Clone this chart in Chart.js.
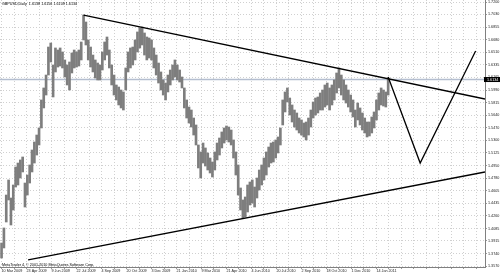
<!DOCTYPE html>
<html><head><meta charset="utf-8">
<script src="https://cdn.jsdelivr.net/npm/chart.js@4/dist/chart.umd.min.js"></script>
<style>html,body{margin:0;padding:0;background:#fff;overflow:hidden}canvas{display:block}</style>
</head><body>
<canvas id="c" width="500" height="274"></canvas>
<script>
const symbolTitle = 'GBPUSD,Daily';
const headerQuote = [1.6138, 1.6156, 1.6109, 1.6134];
const copyrightText = 'MetaTrader 4, \u00A9 2001-2010 MetaQuotes Software Corp.';
const currentPrice = 1.6134;

// date labels every 32 trading days starting at trading-day 0
const dateLabels = ['10 Mar 2009','23 Apr 2009','9 Jun 2009','22 Jul 2009','4 Sep 2009','20 Oct 2009','3 Dec 2009','21 Jan 2010','9 Mar 2010','21 Apr 2010','4 Jun 2010','20 Jul 2010','2 Sep 2010','18 Oct 2010','1 Dec 2010','14 Jan 2011'];
const yTickLabels = ['1.7200','1.7030','1.6855','1.6680','1.6510','1.6335','1.6165','1.5990','1.5815','1.5640','1.5470','1.5300','1.5125','1.4950','1.4780','1.4605','1.4435','1.4260','1.4085','1.3915','1.3740','1.3570'];

// one drawn bar per 3 trading days
const barStep = 3;
const barHigh = [1.3886,1.4093,1.4546,1.4753,1.4505,1.4684,1.4931,1.4986,1.5028,1.5069,
1.4711,1.4821,1.4959,1.5165,1.5275,1.5371,1.5468,1.5853,1.6018,1.6196,
1.6581,1.6636,1.6334,1.6568,1.6540,1.6568,1.6513,1.6403,1.6334,1.6375,
1.6499,1.6540,1.6513,1.6540,1.6650,1.7021,1.6925,1.6678,1.6581,1.6471,
1.6403,1.6361,1.6334,1.6513,1.6650,1.6719,1.6540,1.6334,1.6196,1.6059,
1.6031,1.5990,1.5963,1.6293,1.6513,1.6568,1.6581,1.6678,1.6788,1.6843,
1.6856,1.6774,1.6719,1.6705,1.6678,1.6568,1.6471,1.6361,1.6238,1.6128,
1.6086,1.6196,1.6265,1.6334,1.6403,1.6334,1.6265,1.6169,1.6018,1.5853,
1.5756,1.5715,1.5605,1.5509,1.5234,1.5138,1.5261,1.5193,1.5124,1.5055,
1.5000,1.5138,1.5261,1.5330,1.5413,1.5468,1.5495,1.5481,1.5440,1.5303,
1.5138,1.4959,1.4643,1.4478,1.4519,1.4684,1.4725,1.4753,1.4656,1.4780,
1.4890,1.4959,1.5055,1.5138,1.5206,1.5261,1.5275,1.5303,1.5344,1.5468,
1.5853,1.5963,1.6018,1.5880,1.5784,1.5715,1.5674,1.5605,1.5578,1.5536,
1.5550,1.5605,1.5715,1.5825,1.5880,1.5894,1.5949,1.5990,1.6059,1.6086,
1.6018,1.6059,1.6128,1.6224,1.6293,1.6196,1.6128,1.6059,1.5990,1.5921,
1.5853,1.5715,1.5811,1.5743,1.5674,1.5605,1.5550,1.5550,1.5619,1.5688,
1.5853,1.5949,1.6018,1.5990,1.5963,1.6155];
const barLow = [1.3680,1.3818,1.4175,1.4478,1.4134,1.4340,1.4656,1.4684,1.4780,1.4863,
1.4381,1.4546,1.4711,1.4863,1.4986,1.5096,1.5234,1.5468,1.5743,1.5921,
1.6196,1.6375,1.5894,1.6238,1.6306,1.6320,1.6293,1.6169,1.6059,1.5990,
1.6224,1.6293,1.6306,1.6320,1.6403,1.6678,1.6609,1.6403,1.6306,1.6238,
1.6155,1.6128,1.6128,1.6265,1.6403,1.6471,1.6293,1.6059,1.5921,1.5853,
1.5784,1.5743,1.5715,1.5990,1.6238,1.6293,1.6334,1.6403,1.6513,1.6568,
1.6609,1.6471,1.6403,1.6430,1.6403,1.6293,1.6196,1.6086,1.5990,1.5921,
1.5853,1.5963,1.6059,1.6128,1.6169,1.6128,1.6100,1.6018,1.5743,1.5605,
1.5536,1.5481,1.5371,1.5234,1.4918,1.4780,1.4986,1.4945,1.4890,1.4849,
1.4794,1.4890,1.5028,1.5096,1.5193,1.5261,1.5303,1.5275,1.5234,1.5055,
1.4821,1.4546,1.4340,1.4230,1.4244,1.4313,1.4409,1.4436,1.4381,1.4505,
1.4615,1.4684,1.4753,1.4821,1.4931,1.4986,1.5000,1.5055,1.5124,1.5234,
1.5509,1.5688,1.5825,1.5646,1.5550,1.5481,1.5440,1.5399,1.5371,1.5344,
1.5303,1.5371,1.5481,1.5605,1.5646,1.5674,1.5715,1.5715,1.5756,1.5784,
1.5715,1.5784,1.5853,1.5949,1.6018,1.5921,1.5853,1.5811,1.5756,1.5688,
1.5619,1.5481,1.5578,1.5509,1.5440,1.5399,1.5344,1.5358,1.5399,1.5468,
1.5578,1.5715,1.5784,1.5770,1.5756,1.5921];

// trend lines: x = trading-day index, y = price
const resistanceLine = [{x:105, y:1.7021}, {x:619, y:1.5866}];
const supportLine = [{x:34, y:1.3653}, {x:619, y:1.4863}];
const projectionPath = [{x:495, y:1.6169}, {x:536, y:1.4986}, {x:607, y:1.6526}];
const priceLinePts = [{x:-2, y:currentPrice}, {x:619, y:currentPrice}];

const X_MIN = -2, X_MAX = 619, Y_MIN = 1.35563, Y_MAX = 1.72275;

const barData = barHigh.map((h, k) => ({x: k * barStep, y: [barLow[k], h]}));

const overlay = {
  id: 'overlay',
  afterDraw(chart) {
    const {ctx, chartArea, scales} = chart;
    ctx.save();
    ctx.font = '3.7px "Liberation Sans"';
    ctx.fillStyle = '#000';
    ctx.textBaseline = 'top';
    ctx.textAlign = 'left';
    ctx.fillText(symbolTitle + '  ' + headerQuote.map(v => v.toFixed(4)).join(' '), 2, 2.5);
    ctx.textBaseline = 'bottom';
    ctx.fillText(copyrightText, 2, chartArea.bottom - 0.5);
    const py = scales.y.getPixelForValue(currentPrice);
    ctx.fillStyle = '#000';
    ctx.fillRect(chartArea.right - 1, py - 2.5, 16, 5);
    ctx.fillStyle = '#fff';
    ctx.textBaseline = 'middle';
    ctx.fillText(currentPrice.toFixed(4), chartArea.right + 2, py + 0.3);
    ctx.restore();
  }
};

const gridCommon = {color: '#d0d0d0', lineWidth: 1, drawTicks: true, tickLength: 2, tickColor: '#999', offset: false};
const borderCommon = {display: true, color: '#808080', width: 1, dash: [1, 2]};

new Chart(document.getElementById('c'), {
  type: 'bar',
  data: {
    datasets: [
      {type: 'line', data: resistanceLine, borderColor: '#000', borderWidth: 1.3, pointRadius: 0, order: 0},
      {type: 'line', data: supportLine, borderColor: '#000', borderWidth: 1.3, pointRadius: 0, order: 0},
      {type: 'line', data: projectionPath, borderColor: '#000', borderWidth: 1.3, pointRadius: 0, order: 0},
      {type: 'bar', data: barData, backgroundColor: '#7e7e7e', borderWidth: 0, barThickness: 2, grouped: false, order: 1},
      {type: 'line', data: priceLinePts, borderColor: '#b4bed0', borderWidth: 1.6, pointRadius: 0, order: 2}
    ]
  },
  options: {
    responsive: false,
    animation: false,
    devicePixelRatio: 1,
    layout: {padding: 0},
    plugins: {legend: {display: false}, tooltip: {enabled: false}},
    scales: {
      x: {
        type: 'linear', min: X_MIN, max: X_MAX, offset: false,
        grid: gridCommon, border: borderCommon,
        ticks: {
          autoSkip: false, maxRotation: 0, align: 'start', padding: 0,
          font: {size: 3.7, family: 'Liberation Sans'}, color: '#222',
          callback: (v) => (v % 32 === 0 && dateLabels[v / 32]) ? dateLabels[v / 32] : ''
        },
        afterBuildTicks: (s) => {
          const t = [];
          for (let v = 0; v <= X_MAX; v += 16) t.push({value: v});
          s.ticks = t;
        },
        afterFit: (s) => { s.height = 7; s.paddingLeft = 0; s.paddingRight = 0; }
      },
      y: {
        type: 'linear', position: 'right', min: Y_MIN, max: Y_MAX,
        grid: gridCommon, border: borderCommon,
        ticks: {
          padding: 1, font: {size: 3.7, family: 'Liberation Sans'}, color: '#222',
          callback: (v, i) => yTickLabels[i]
        },
        afterBuildTicks: (s) => { s.ticks = yTickLabels.map(t => ({value: parseFloat(t)})); },
        afterFit: (s) => { s.width = 15; s.paddingTop = 0; s.paddingBottom = 0; }
      }
    }
  },
  plugins: [overlay]
});
</script>
</body></html>
